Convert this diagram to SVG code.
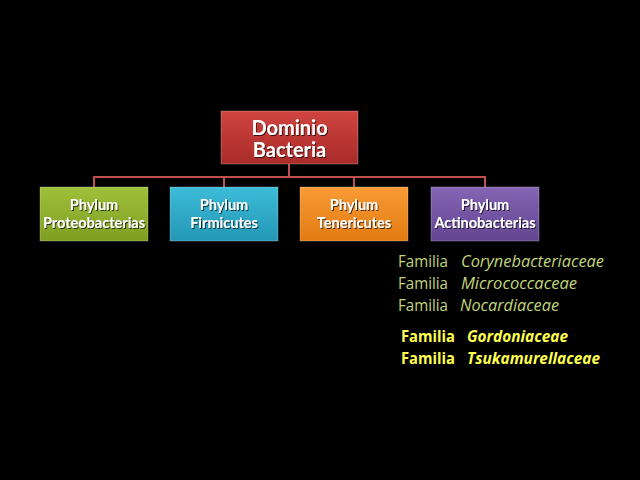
<svg xmlns="http://www.w3.org/2000/svg" width="640" height="480" viewBox="0 0 640 480">
<defs>
<linearGradient id="gRed" x1="0" y1="0" x2="0" y2="1"><stop offset="0" stop-color="#d0443f"/><stop offset="1" stop-color="#a82b2a"/></linearGradient>
<linearGradient id="gGreen" x1="0" y1="0" x2="0" y2="1"><stop offset="0" stop-color="#9fc03a"/><stop offset="1" stop-color="#7e9e22"/></linearGradient>
<linearGradient id="gBlue" x1="0" y1="0" x2="0" y2="1"><stop offset="0" stop-color="#3cbcd8"/><stop offset="1" stop-color="#2397b6"/></linearGradient>
<linearGradient id="gOrange" x1="0" y1="0" x2="0" y2="1"><stop offset="0" stop-color="#f99b35"/><stop offset="1" stop-color="#e27b12"/></linearGradient>
<linearGradient id="gPurple" x1="0" y1="0" x2="0" y2="1"><stop offset="0" stop-color="#8465b5"/><stop offset="1" stop-color="#634592"/></linearGradient>
<filter id="ts" x="-10%" y="-30%" width="120%" height="160%"><feDropShadow dx="1" dy="1" stdDeviation="0.6" flood-color="#000" flood-opacity="0.7"/></filter>
</defs>
<style>
.box{stroke:rgba(255,255,255,0.25);stroke-width:1}
.lbl{font-family:Lato,"Liberation Sans",sans-serif;font-weight:bold;fill:#ffffff;text-anchor:middle;filter:url(#ts)}
.conn{stroke:#c0504d;stroke-width:2;fill:none}
.fam{font-family:"Open Sans","Liberation Sans",sans-serif;font-size:16px;fill:#c0d67a}
.fam2{font-family:"Open Sans","Liberation Sans",sans-serif;font-size:15.5px;font-weight:bold;fill:#ffff4d}
.it{font-style:italic}
</style>
<rect x="0" y="0" width="640" height="480" fill="#000"/>
<g id="connectors">
<path class="conn" d="M289,164 V177 M94,187 V177 H485 V187 M224,177 V187 M354,177 V187"/>
</g>
<g id="root">
<rect class="box" x="221" y="111" width="137" height="53" fill="url(#gRed)"/>
<text class="lbl" x="289.5" y="135" font-size="20">Dominio</text>
<text class="lbl" x="289.5" y="157" font-size="20">Bacteria</text>
</g>
<g id="proteobacterias">
<rect class="box" x="40" y="187" width="108" height="54" fill="url(#gGreen)"/>
<text class="lbl" x="94" y="210" font-size="14.5">Phylum</text>
<text class="lbl" x="94" y="228" font-size="14.5">Proteobacterias</text>
</g>
<g id="firmicutes">
<rect class="box" x="170" y="187" width="108" height="54" fill="url(#gBlue)"/>
<text class="lbl" x="224" y="210" font-size="14.5">Phylum</text>
<text class="lbl" x="224" y="228" font-size="14.5">Firmicutes</text>
</g>
<g id="tenericutes">
<rect class="box" x="300" y="187" width="108" height="54" fill="url(#gOrange)"/>
<text class="lbl" x="354" y="210" font-size="14.5">Phylum</text>
<text class="lbl" x="354" y="228" font-size="14.5">Tenericutes</text>
</g>
<g id="actinobacterias">
<rect class="box" x="431" y="187" width="108" height="54" fill="url(#gPurple)"/>
<text class="lbl" x="485" y="210" font-size="14.5">Phylum</text>
<text class="lbl" x="485" y="228" font-size="14.5">Actinobacterias</text>
</g>
<g id="familias">
<text class="fam" x="398" y="267" textLength="50" lengthAdjust="spacingAndGlyphs">Familia</text><text class="fam it" x="461" y="267" textLength="143" lengthAdjust="spacingAndGlyphs">Corynebacteriaceae</text>
<text class="fam" x="398" y="289" textLength="50" lengthAdjust="spacingAndGlyphs">Familia</text><text class="fam it" x="461" y="289" textLength="116" lengthAdjust="spacingAndGlyphs">Micrococcaceae</text>
<text class="fam" x="398" y="311" textLength="50" lengthAdjust="spacingAndGlyphs">Familia</text><text class="fam it" x="460" y="311" textLength="99" lengthAdjust="spacingAndGlyphs">Nocardiaceae</text>
<text class="fam2" x="401" y="342" textLength="54" lengthAdjust="spacingAndGlyphs">Familia</text><text class="fam2 it" x="467" y="342" textLength="101" lengthAdjust="spacingAndGlyphs">Gordoniaceae</text>
<text class="fam2" x="401" y="364" textLength="54" lengthAdjust="spacingAndGlyphs">Familia</text><text class="fam2 it" x="467" y="364" textLength="133" lengthAdjust="spacingAndGlyphs">Tsukamurellaceae</text>
</g>
</svg>
